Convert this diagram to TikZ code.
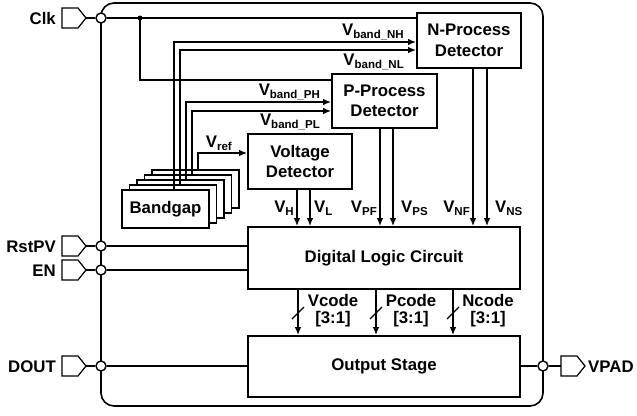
\documentclass[tikz,border=0pt]{standalone}
\usepackage{fontspec}
\setmainfont{Liberation Sans}
\usetikzlibrary{arrows.meta}
% V with a small lowered subscript
\newcommand{\vsub}[1]{V\raisebox{-3pt}{\fontsize{11.5}{11.5}\selectfont #1}}
% input pad symbol on the left edge: name, y, label
\newcommand{\leftpad}[3]{%
  \draw[pad] (62,#2-10) -- (78,#2-10) -- (86,#2) -- (78,#2+10) -- (62,#2+10) -- cycle;
  \coordinate (#1) at (86,#2);
  \node[lab,anchor=base east] (#1lab) at (56,#2+6) {#3};
}
\begin{document}
\begin{tikzpicture}[x=1pt,y=-1pt,
  every node/.style={font=\bfseries\fontsize{16.8}{20.5}\selectfont},
  wire/.style={line width=1.6pt},
  arr/.style={wire,-{Latex[length=8pt,width=6.5pt]}},
  blk/.style={draw,line width=1.6pt,fill=white,inner sep=0pt,align=center},
  pinc/.style={circle,draw,line width=1.4pt,fill=white,inner sep=0pt,minimum size=10pt},
  pad/.style={line width=1.2pt,fill=white,line join=miter},
  lab/.style={inner sep=0pt},
]
\useasboundingbox (0,0) rectangle (637,415);

% chip outline
\node[draw,line width=1.6pt,rounded corners=13pt,minimum width=442pt,minimum height=403pt,inner sep=0pt] (chip) at (322,204.5) {};

% function blocks
\node[blk,minimum width=104pt,minimum height=55pt] (nproc) at (469,40.5) {N-Process\\Detector};
\node[blk,minimum width=105pt,minimum height=54pt] (pproc) at (384.5,101) {P-Process\\Detector};
\node[blk,minimum width=104pt,minimum height=55pt] (vdet) at (300,161.5) {Voltage\\Detector};
\node[blk,minimum width=272pt,minimum height=62pt] (dlc) at (384,258) {Digital Logic Circuit};
\node[blk,minimum width=272pt,minimum height=61pt] (outs) at (384,366.5) {Output Stage};

% stack of bandgap references
\foreach \k in {4,3,2,1} {
  \node[blk,minimum width=87pt,minimum height=38pt] (bg\k) at (165.5+7.5*\k,209-5*\k) {};
}
\node[blk,minimum width=87pt,minimum height=38pt] (bg0) at (165.5,209) {Bandgap};

% pad rings on the chip edge
\node[pinc] (cclk) at (101,18) {};
\node[pinc] (crst) at (101,246) {};
\node[pinc] (cen) at (101,270) {};
\node[pinc] (cdout) at (101,366) {};
\node[pinc] (cvpad) at (543,366) {};

% external pads
\leftpad{pclk}{18}{Clk}
\leftpad{prst}{246}{RstPV}
\leftpad{pen}{270}{EN}
\leftpad{pdout}{366}{DOUT}
\draw[pad] (561,356) -- (577,356) -- (585,366) -- (577,376) -- (561,376) -- cycle;
\coordinate (pvpad) at (561,366);
\node[lab,anchor=base west] (pvpadlab) at (588,372) {VPAD};

\draw[wire] (pclk) -- (cclk.west);
\draw[wire] (prst) -- (crst.west);
\draw[wire] (pen) -- (cen.west);
\draw[wire] (pdout) -- (cdout.west);
\draw[wire] (cvpad.east) -- (pvpad);

% clock distribution
\node[circle,fill,inner sep=0pt,minimum size=5pt] (ckdot) at (140,18) {};
\coordinate (yck) at (0,80);
\draw[wire] (cclk.east) -- (nproc.west |- cclk);
\draw[wire] (ckdot.center) |- (pproc.west |- yck);

% control inputs and output path
\draw[wire] (crst.east) -- (dlc.west |- crst);
\draw[wire] (cen.east) -- (dlc.west |- cen);
\draw[wire] (cdout.east) -- (outs.west |- cdout);
\draw[wire] (outs.east |- cvpad) -- (cvpad.west);

% bandgap outputs
\coordinate (tnh) at (174,42);
\coordinate (tnl) at (180,50);
\coordinate (tph) at (186,102);
\coordinate (tpl) at (192,111);
\coordinate (tref) at (198,153);
\draw[arr] (bg0.north -| tnh) |- (nproc.west |- tnh);
\draw[arr] (bg1.north -| tnl) |- (nproc.west |- tnl);
\draw[arr] (bg2.north -| tph) |- (pproc.west |- tph);
\draw[arr] (bg3.north -| tpl) |- (pproc.west |- tpl);
\draw[arr] (bg4.north -| tref) |- (vdet.west |- tref);

\node[lab,anchor=base east] (lnh) at (404,35) {\vsub{band\_NH}};
\node[lab,anchor=base east] (lnl) at (404,65) {\vsub{band\_NL}};
\node[lab,anchor=base east] (lph) at (320,95) {\vsub{band\_PH}};
\node[lab,anchor=base east] (lpl) at (320,125) {\vsub{band\_PL}};
\node[lab,anchor=base east] (lref) at (232,147) {\vsub{ref}};

% detector outputs into the logic
\coordinate (xh) at (297,0);
\coordinate (xl) at (310,0);
\coordinate (xpf) at (380,0);
\coordinate (xps) at (393,0);
\coordinate (xnf) at (473,0);
\coordinate (xns) at (487,0);
\draw[arr] (vdet.south -| xh) -- (dlc.north -| xh);
\draw[arr] (vdet.south -| xl) -- (dlc.north -| xl);
\draw[arr] (pproc.south -| xpf) -- (dlc.north -| xpf);
\draw[arr] (pproc.south -| xps) -- (dlc.north -| xps);
\draw[arr] (nproc.south -| xnf) -- (dlc.north -| xnf);
\draw[arr] (nproc.south -| xns) -- (dlc.north -| xns);

\node[lab,anchor=base east] (lh) at (294,212) {\vsub{H}};
\node[lab,anchor=base west] (ll) at (314,212) {\vsub{L}};
\node[lab,anchor=base east] (lpf) at (377,212) {\vsub{PF}};
\node[lab,anchor=base west] (lps) at (401,212) {\vsub{PS}};
\node[lab,anchor=base east] (lnf) at (470,212) {\vsub{NF}};
\node[lab,anchor=base west] (lns) at (495,212) {\vsub{NS}};

% 3-bit code buses
\foreach \x/\nm/\txt in {298/vc/Vcode,376/pc/Pcode,453/nc/Ncode} {
  \coordinate (b\nm) at (\x,0);
  \draw[arr] (dlc.south -| b\nm) -- (outs.north -| b\nm);
  \draw[line width=1.3pt] (\x-6,319) -- (\x+6,307);
  \node[lab,anchor=base] (l\nm) at (\x+35,306) {\txt};
  \node[lab,anchor=base] (r\nm) at (\x+35,323) {[3:1]};
}
\end{tikzpicture}
\end{document}
